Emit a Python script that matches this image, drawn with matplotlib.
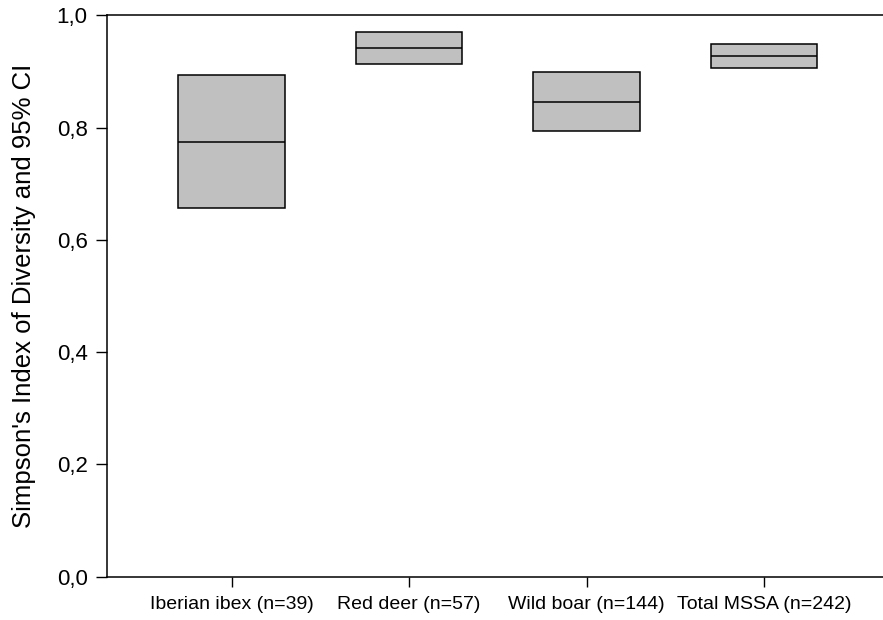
import matplotlib
matplotlib.use("Agg")
import matplotlib.pyplot as plt
from matplotlib.ticker import FuncFormatter

categories = ["Iberian ibex (n=39)", "Red deer (n=57)", "Wild boar (n=144)", "Total MSSA (n=242)"]
lower = [0.656, 0.913, 0.794, 0.906]
median = [0.774, 0.942, 0.846, 0.927]
upper = [0.894, 0.971, 0.899, 0.948]
yticks = [0.0, 0.2, 0.4, 0.6, 0.8, 1.0]

plt.rcParams['font.family'] = ['Liberation Sans', 'DejaVu Sans']

fig = plt.figure(figsize=(8.83, 6.20), dpi=100)
ax = fig.add_axes([107/883, 43.3/620, 1 - 107/883 + 0.01, (576.7-15.3)/620])

x = list(range(1, len(categories) + 1))
heights = [u - l for u, l in zip(upper, lower)]
w = 0.6
ax.bar(x, heights, bottom=lower, width=w, color='#c0c0c0', edgecolor='black', linewidth=1.1, zorder=2)
ax.hlines(median, [xi - w/2 for xi in x], [xi + w/2 for xi in x], colors='black', linewidth=1.1, zorder=3)

ax.set_xlim(0.298, 4.72)
ax.set_ylim(0, 1.0)
ax.set_xticks(x)
ax.set_xticklabels(categories, fontsize=14)
ax.set_yticks(yticks)
ax.yaxis.set_major_formatter(FuncFormatter(lambda v, p: f"{v:.1f}".replace('.', ',')))
ax.tick_params(axis='y', labelsize=16, length=8, width=1, direction='out', pad=6)
ax.tick_params(axis='x', length=7, width=1, direction='out', pad=7)
ax.set_ylabel("Simpson's Index of Diversity and 95% CI", fontsize=18.5, labelpad=15)

for s in ['left', 'bottom', 'top']:
    ax.spines[s].set_linewidth(1.1)
ax.spines['right'].set_visible(False)

fig.savefig("out.png", dpi=100)
